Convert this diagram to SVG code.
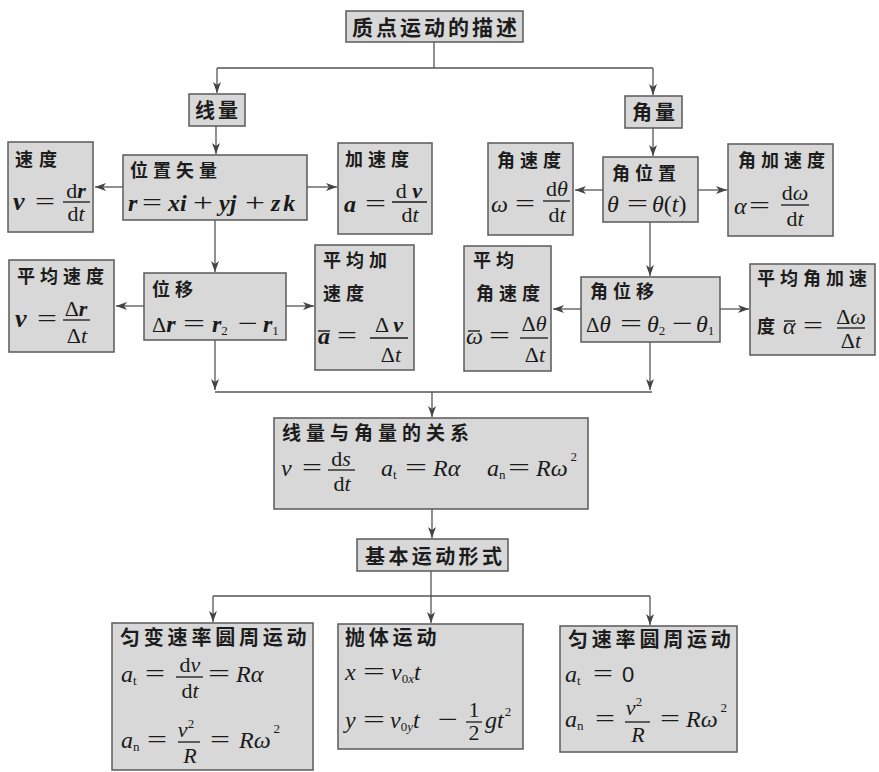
<svg xmlns="http://www.w3.org/2000/svg" width="879" height="772" viewBox="0 0 879 772">
<style>
.bx{fill:#d8d8d8;stroke:#5a5a5a;stroke-width:1.5}
.h{font-family:"Noto Sans CJK SC","Noto Sans CJK JP",sans-serif;font-weight:bold;font-size:18px;letter-spacing:5px;fill:#1c1c1c}
.h20{font-size:20px;letter-spacing:3.8px}
.r{font-family:"Liberation Serif",serif;font-size:24px;fill:#1a1a1a}
.i{font-style:italic}
.b{font-style:italic;font-weight:bold}
.eq{font-size:26px}
.f{font-size:22px}
.s{font-size:13px;font-style:normal;font-weight:normal}
.fr{stroke:#1a1a1a;stroke-width:1.3}
.ob{stroke:#1a1a1a;stroke-width:1.4}
.c{fill:none;stroke:#555;stroke-width:1.3}
</style>
<defs>
<marker id="ar" markerUnits="userSpaceOnUse" markerWidth="12" markerHeight="10" viewBox="0 0 12 10" refX="11" refY="5" orient="auto">
<path d="M0,1 L11,5 L0,9 L3,5 Z" fill="#444"/>
</marker>
</defs>

<g id="connectors">
<path class="c" d="M434 42 V68 M217 68 H653"/>
<path class="c" d="M217 68 V93" marker-end="url(#ar)"/>
<path class="c" d="M653 68 V95" marker-end="url(#ar)"/>
<path class="c" d="M216 126 V154" marker-end="url(#ar)"/>
<path class="c" d="M653 128 V156" marker-end="url(#ar)"/>
<path class="c" d="M123 187 H95" marker-end="url(#ar)"/>
<path class="c" d="M307 187 H337" marker-end="url(#ar)"/>
<path class="c" d="M603 190 H575" marker-end="url(#ar)"/>
<path class="c" d="M698 190 H727" marker-end="url(#ar)"/>
<path class="c" d="M215 220 V272" marker-end="url(#ar)"/>
<path class="c" d="M650 222 V276" marker-end="url(#ar)"/>
<path class="c" d="M144 306 H116" marker-end="url(#ar)"/>
<path class="c" d="M286 306 H314" marker-end="url(#ar)"/>
<path class="c" d="M581 309 H553" marker-end="url(#ar)"/>
<path class="c" d="M720 309 H749" marker-end="url(#ar)"/>
<path class="c" d="M215 340 V390" marker-end="url(#ar)"/>
<path class="c" d="M650 342 V390" marker-end="url(#ar)"/>
<path class="c" d="M215 392 H652"/>
<path class="c" d="M432 392 V417" marker-end="url(#ar)"/>
<path class="c" d="M432 509 V538" marker-end="url(#ar)"/>
<path class="c" d="M431 571 V623" marker-end="url(#ar)"/>
<path class="c" d="M213 596 H650"/>
<path class="c" d="M213 596 V622" marker-end="url(#ar)"/>
<path class="c" d="M650 596 V625" marker-end="url(#ar)"/>
</g>

<g id="title">
<rect class="bx" x="346" y="11" width="177" height="31"/>
<text class="h" x="352" y="35" style="font-size:21px;letter-spacing:3px">质点运动的描述</text>
</g>

<g id="xianliang">
<rect class="bx" x="189" y="94" width="56" height="32"/>
<text class="h h20" x="195" y="118" style="letter-spacing:3px">线量</text>
</g>

<g id="jiaoliang">
<rect class="bx" x="625" y="96" width="57" height="32"/>
<text class="h h20" x="632" y="120" style="letter-spacing:3px">角量</text>
</g>

<g id="sudu">
<rect class="bx" x="8" y="142" width="85" height="90"/>
<text class="h" x="15" y="166" style="letter-spacing:6px">速度</text>
<text class="r b" x="13" y="210" style="font-size:26px">v</text>
<text class="r eq" x="35" y="210" textLength="20" lengthAdjust="spacingAndGlyphs">=</text>
<text class="r f" x="76" y="198" text-anchor="middle">d<tspan class="b">r</tspan></text>
<line class="fr" x1="63" y1="202" x2="90" y2="202"/>
<text class="r f" x="76" y="221" text-anchor="middle">d<tspan class="i">t</tspan></text>
</g>

<g id="weizhishiliang">
<rect class="bx" x="123" y="155" width="184" height="65"/>
<text class="h" x="130" y="177">位置矢量</text>
<text class="r b" x="128" y="211">r</text>
<text class="r eq" x="142" y="211" textLength="20" lengthAdjust="spacingAndGlyphs">=</text>
<text class="r b" x="168" y="211">xi</text>
<text class="r eq" x="193" y="211" textLength="20" lengthAdjust="spacingAndGlyphs">+</text>
<text class="r b" x="219" y="211">yj</text>
<text class="r eq" x="245" y="211" textLength="20" lengthAdjust="spacingAndGlyphs">+</text>
<text class="r b" x="271" y="211" style="letter-spacing:3px">zk</text>
</g>

<g id="jiasudu">
<rect class="bx" x="338" y="143" width="94" height="91"/>
<text class="h" x="345" y="166">加速度</text>
<text class="r b" x="344" y="212">a</text>
<text class="r eq" x="365" y="212" textLength="21" lengthAdjust="spacingAndGlyphs">=</text>
<text class="r f" x="409" y="198" text-anchor="middle">d <tspan class="b">v</tspan></text>
<line class="fr" x1="392" y1="202" x2="427" y2="202"/>
<text class="r f" x="410" y="222" text-anchor="middle">d<tspan class="i">t</tspan></text>
</g>

<g id="jiaosudu">
<rect class="bx" x="488" y="143" width="85" height="92"/>
<text class="h" x="497" y="167">角速度</text>
<text class="r i" x="491" y="212">ω</text>
<text class="r eq" x="515" y="212" textLength="20" lengthAdjust="spacingAndGlyphs">=</text>
<text class="r f" x="557" y="196" text-anchor="middle">d<tspan class="i">θ</tspan></text>
<line class="fr" x1="543" y1="201" x2="570" y2="201"/>
<text class="r f" x="557" y="222" text-anchor="middle">d<tspan class="i">t</tspan></text>
</g>

<g id="jiaoweizhi">
<rect class="bx" x="603" y="157" width="95" height="65"/>
<text class="h" x="612" y="180">角位置</text>
<text class="r i" x="607" y="212">θ</text>
<text class="r eq" x="627" y="212" textLength="21" lengthAdjust="spacingAndGlyphs">=</text>
<text class="r i" x="652" y="212">θ<tspan style="font-style:normal">(</tspan>t<tspan style="font-style:normal">)</tspan></text>
</g>

<g id="jiaojiasudu">
<rect class="bx" x="728" y="144" width="105" height="92"/>
<text class="h" x="738" y="167">角加速度</text>
<text class="r i" x="734" y="214">α</text>
<text class="r eq" x="749" y="214" textLength="21" lengthAdjust="spacingAndGlyphs">=</text>
<text class="r f" x="795" y="200" text-anchor="middle">d<tspan class="i">ω</tspan></text>
<line class="fr" x1="781" y1="205" x2="809" y2="205"/>
<text class="r f" x="795" y="226" text-anchor="middle">d<tspan class="i">t</tspan></text>
</g>

<g id="pingjunsudu">
<rect class="bx" x="9" y="260" width="105" height="92"/>
<text class="h" x="17" y="283">平均速度</text>
<text class="r b" x="15" y="327" style="font-size:26px">v</text>
<text class="r eq" x="37" y="327" textLength="20" lengthAdjust="spacingAndGlyphs">=</text>
<text class="r f" x="76" y="316" text-anchor="middle">Δ<tspan class="b">r</tspan></text>
<line class="fr" x1="63" y1="320" x2="90" y2="320"/>
<text class="r f" x="77" y="343" text-anchor="middle">Δ<tspan class="i">t</tspan></text>
</g>

<g id="weiyi">
<rect class="bx" x="144" y="273" width="142" height="67"/>
<text class="h" x="152" y="296">位移</text>
<text class="r" x="152" y="332" style="font-size:22px">Δ<tspan class="b" style="font-size:24px">r</tspan></text>
<text class="r eq" x="183" y="332" textLength="22" lengthAdjust="spacingAndGlyphs">=</text>
<text class="r b" x="212" y="332">r<tspan class="s" dy="3">2</tspan></text>
<text class="r eq" x="238" y="332" textLength="20" lengthAdjust="spacingAndGlyphs">−</text>
<text class="r b" x="263" y="332">r<tspan class="s" dy="3">1</tspan></text>
</g>

<g id="pingjunjiasudu">
<rect class="bx" x="315" y="245" width="99" height="125"/>
<text class="h" x="323" y="267">平均加</text>
<text class="h" x="323" y="300">速度</text>
<text class="r b" x="318" y="344">a</text>
<line class="ob" x1="318" y1="331" x2="330" y2="331"/>
<text class="r eq" x="337" y="344" textLength="20" lengthAdjust="spacingAndGlyphs">=</text>
<text class="r f" x="389" y="332" text-anchor="middle">Δ <tspan class="b">v</tspan></text>
<line class="fr" x1="370" y1="338" x2="408" y2="338"/>
<text class="r f" x="391" y="362" text-anchor="middle">Δ<tspan class="i">t</tspan></text>
</g>

<g id="pingjunjiaosudu">
<rect class="bx" x="464" y="246" width="87" height="125"/>
<text class="h" x="473" y="267">平均</text>
<text class="h" x="476" y="300">角速度</text>
<text class="r i" x="466" y="344">ω</text>
<line class="ob" x1="468" y1="331" x2="480" y2="331"/>
<text class="r eq" x="489" y="344" textLength="21" lengthAdjust="spacingAndGlyphs">=</text>
<text class="r f" x="534" y="331" text-anchor="middle">Δ<tspan class="i">θ</tspan></text>
<line class="fr" x1="520" y1="338" x2="548" y2="338"/>
<text class="r f" x="535" y="362" text-anchor="middle">Δ<tspan class="i">t</tspan></text>
</g>

<g id="jiaoweiyi">
<rect class="bx" x="581" y="277" width="139" height="65"/>
<text class="h" x="590" y="298">角位移</text>
<text class="r" x="586" y="332" style="font-size:21px">Δ<tspan class="i" style="font-size:23px">θ</tspan></text>
<text class="r eq" x="620" y="332" textLength="22" lengthAdjust="spacingAndGlyphs">=</text>
<text class="r i" x="647" y="332">θ<tspan class="s" dy="3">2</tspan></text>
<text class="r eq" x="672" y="332" textLength="21" lengthAdjust="spacingAndGlyphs">−</text>
<text class="r i" x="696" y="332">θ<tspan class="s" dy="3">1</tspan></text>
</g>

<g id="pingjunjiaojiasudu">
<rect class="bx" x="750" y="264" width="125" height="91"/>
<text class="h" x="757" y="285" style="letter-spacing:5px">平均角加速</text>
<text class="h" x="757" y="333">度</text>
<text class="r i" x="783" y="334">α</text>
<line class="ob" x1="784" y1="321" x2="795" y2="321"/>
<text class="r eq" x="803" y="334" textLength="20" lengthAdjust="spacingAndGlyphs">=</text>
<text class="r f" x="851" y="324" text-anchor="middle">Δ<tspan class="i">ω</tspan></text>
<line class="fr" x1="837" y1="328" x2="865" y2="328"/>
<text class="r f" x="851" y="348" text-anchor="middle">Δ<tspan class="i">t</tspan></text>
</g>

<g id="guanxi">
<rect class="bx" x="274" y="418" width="314" height="91"/>
<text class="h" x="282" y="440" style="font-size:19px;letter-spacing:5px">线量与角量的关系</text>
<text class="r i" x="281" y="476">v</text>
<text class="r eq" x="302" y="476" textLength="20" lengthAdjust="spacingAndGlyphs">=</text>
<text class="r f" x="341" y="466" text-anchor="middle">d<tspan class="i">s</tspan></text>
<line class="fr" x1="328" y1="470" x2="355" y2="470"/>
<text class="r f" x="342" y="491" text-anchor="middle">d<tspan class="i">t</tspan></text>
<text class="r i" x="381" y="476">a<tspan class="s" dy="3">t</tspan></text>
<text class="r eq" x="405" y="476" textLength="22" lengthAdjust="spacingAndGlyphs">=</text>
<text class="r i" x="433" y="476">Rα</text>
<text class="r i" x="487" y="476">a<tspan class="s" dy="3">n</tspan></text>
<text class="r eq" x="508" y="476" textLength="22" lengthAdjust="spacingAndGlyphs">=</text>
<text class="r i" x="536" y="476">Rω<tspan class="s" dx="3" dy="-15">2</tspan></text>
</g>

<g id="jibenyundong">
<rect class="bx" x="357" y="539" width="151" height="32"/>
<text class="h h20" x="365" y="564" style="letter-spacing:3.4px">基本运动形式</text>
</g>

<g id="yunbiansulv">
<rect class="bx" x="112" y="623" width="201" height="147"/>
<text class="h h20" x="120" y="645">匀变速率圆周运动</text>
<text class="r i" x="121" y="682">a<tspan class="s" dy="3">t</tspan></text>
<text class="r eq" x="145" y="682" textLength="20" lengthAdjust="spacingAndGlyphs">=</text>
<text class="r f" x="190" y="672" text-anchor="middle">d<tspan class="i">v</tspan></text>
<line class="fr" x1="176" y1="677" x2="203" y2="677"/>
<text class="r f" x="190" y="698" text-anchor="middle">d<tspan class="i">t</tspan></text>
<text class="r eq" x="208" y="682" textLength="22" lengthAdjust="spacingAndGlyphs">=</text>
<text class="r i" x="236" y="682">Rα</text>
<text class="r i" x="121" y="748">a<tspan class="s" dy="3">n</tspan></text>
<text class="r eq" x="147" y="748" textLength="20" lengthAdjust="spacingAndGlyphs">=</text>
<text class="r f i" x="186" y="737" text-anchor="middle">v<tspan class="s" dy="-9">2</tspan></text>
<line class="fr" x1="178" y1="742" x2="200" y2="742"/>
<text class="r f i" x="190" y="763" text-anchor="middle">R</text>
<text class="r eq" x="210" y="748" textLength="20" lengthAdjust="spacingAndGlyphs">=</text>
<text class="r i" x="239" y="748">Rω<tspan class="s" dx="3" dy="-15">2</tspan></text>
</g>

<g id="paotiyundong">
<rect class="bx" x="338" y="624" width="185" height="125"/>
<text class="h h20" x="345" y="645">抛体运动</text>
<text class="r i" x="345" y="680">x</text>
<text class="r eq" x="363" y="680" textLength="22" lengthAdjust="spacingAndGlyphs">=</text>
<text class="r i" x="391" y="680">v<tspan class="s" dy="3">0<tspan style="font-style:italic">x</tspan></tspan><tspan dy="-3">t</tspan></text>
<text class="r i" x="345" y="728">y</text>
<text class="r eq" x="363" y="728" textLength="22" lengthAdjust="spacingAndGlyphs">=</text>
<text class="r i" x="390" y="728">v<tspan class="s" dy="3">0<tspan style="font-style:italic">y</tspan></tspan><tspan dy="-3">t</tspan></text>
<text class="r eq" x="438" y="728" textLength="20" lengthAdjust="spacingAndGlyphs">−</text>
<text class="r f" x="474" y="717" text-anchor="middle">1</text>
<line class="fr" x1="466" y1="722" x2="482" y2="722"/>
<text class="r f" x="474" y="740" text-anchor="middle">2</text>
<text class="r i" x="485" y="728">gt<tspan class="s" dx="1" dy="-12">2</tspan></text>
</g>

<g id="yunsulv">
<rect class="bx" x="560" y="626" width="177" height="126"/>
<text class="h h20" x="568" y="647">匀速率圆周运动</text>
<text class="r i" x="565" y="682">a<tspan class="s" dy="3">t</tspan></text>
<text class="r eq" x="593" y="682" textLength="20" lengthAdjust="spacingAndGlyphs">=</text>
<text class="r" x="622" y="682" style="font-family:'Liberation Sans',sans-serif;font-size:22px">0</text>
<text class="r i" x="565" y="727">a<tspan class="s" dy="3">n</tspan></text>
<text class="r eq" x="595" y="727" textLength="20" lengthAdjust="spacingAndGlyphs">=</text>
<text class="r f i" x="634" y="715" text-anchor="middle">v<tspan class="s" dy="-9">2</tspan></text>
<line class="fr" x1="625" y1="722" x2="650" y2="722"/>
<text class="r f i" x="638" y="742" text-anchor="middle">R</text>
<text class="r eq" x="660" y="727" textLength="20" lengthAdjust="spacingAndGlyphs">=</text>
<text class="r i" x="686" y="727">Rω<tspan class="s" dx="3" dy="-15">2</tspan></text>
</g>
</svg>
